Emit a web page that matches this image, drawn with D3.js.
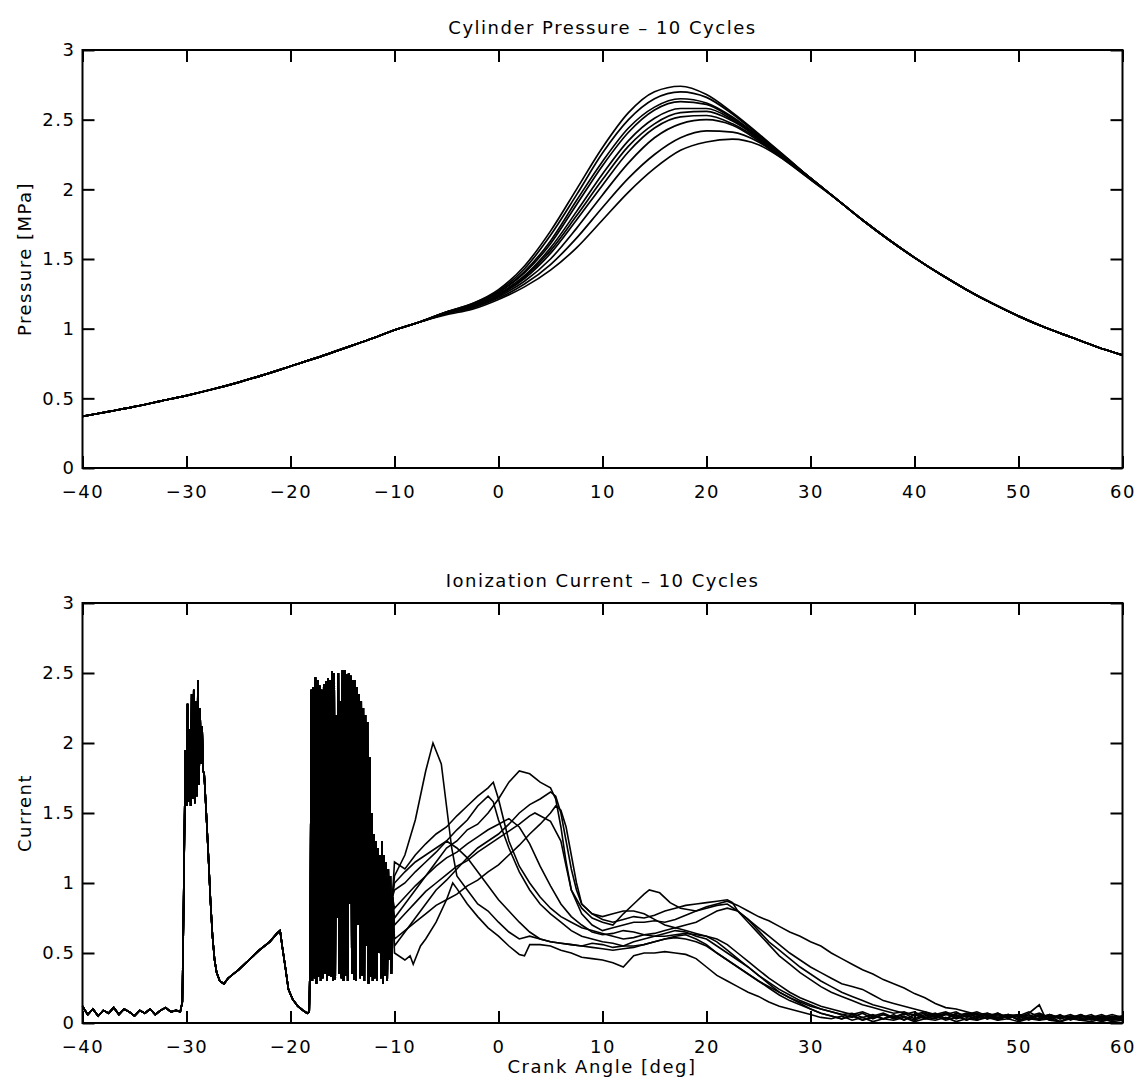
<!DOCTYPE html>
<html>
<head>
<meta charset="utf-8">
<script src="https://cdn.jsdelivr.net/npm/d3@7"></script>
<style>
    body { margin: 0; background: #fff; }
    svg text { font-family: "DejaVu Sans", sans-serif; font-size: 18px; fill: #000; letter-spacing: 1.5px; }
</style>
</head>
<body>
<svg width="1141" height="1084"></svg>
<script>
/* global d3 */

const angleTicks = [-40, -30, -20, -10, 0, 10, 20, 30, 40, 50, 60];
const valueTicks = [0, 0.5, 1, 1.5, 2, 2.5, 3];

// ---- cylinder pressure [MPa] ----
// compression is the same for every cycle
const compressionAngles = [-40, -37.5, -35, -32.5, -30, -27.5, -25, -22.5, -20, -17.5, -15, -12.5, -10, -7.5];
const compressionPressure = [0.37, 0.405, 0.44, 0.48, 0.52, 0.565, 0.615, 0.67, 0.73, 0.79, 0.855, 0.92, 0.99, 1.05];

const combustionAngles = [-5, -2.5, 0, 2.5, 5, 7.5, 10, 12.5, 15, 17.5, 20, 22.5, 25, 27.5, 30];
const pressureCycle1 = [1.12, 1.18, 1.28, 1.45, 1.70, 2.00, 2.30, 2.55, 2.70, 2.74, 2.68, 2.55, 2.40, 2.24, 2.08];
const pressureCycle2 = [1.12, 1.18, 1.27, 1.43, 1.67, 1.96, 2.26, 2.50, 2.65, 2.70, 2.66, 2.54, 2.39, 2.24, 2.08];
const pressureCycle3 = [1.12, 1.17, 1.26, 1.41, 1.63, 1.92, 2.20, 2.44, 2.59, 2.65, 2.62, 2.52, 2.38, 2.23, 2.08];
const pressureCycle4 = [1.12, 1.17, 1.26, 1.40, 1.61, 1.89, 2.17, 2.41, 2.57, 2.63, 2.61, 2.51, 2.38, 2.23, 2.08];
const pressureCycle5 = [1.11, 1.16, 1.25, 1.38, 1.58, 1.84, 2.11, 2.35, 2.51, 2.58, 2.58, 2.50, 2.37, 2.23, 2.08];
const pressureCycle6 = [1.11, 1.16, 1.24, 1.37, 1.56, 1.81, 2.07, 2.31, 2.47, 2.55, 2.56, 2.49, 2.37, 2.23, 2.08];
const pressureCycle7 = [1.11, 1.16, 1.24, 1.36, 1.54, 1.78, 2.03, 2.27, 2.44, 2.52, 2.53, 2.47, 2.36, 2.22, 2.08];
const pressureCycle8 = [1.11, 1.15, 1.23, 1.34, 1.50, 1.72, 1.96, 2.19, 2.37, 2.47, 2.50, 2.46, 2.35, 2.22, 2.08];
const pressureCycle9 = [1.11, 1.15, 1.22, 1.32, 1.46, 1.65, 1.87, 2.08, 2.25, 2.37, 2.42, 2.41, 2.34, 2.21, 2.07];
const pressureCycle10 = [1.10, 1.14, 1.21, 1.30, 1.42, 1.58, 1.78, 1.98, 2.15, 2.28, 2.34, 2.36, 2.32, 2.21, 2.07];

const expansionAngles = [32.5, 35, 37.5, 40, 42.5, 45, 47.5, 50, 52.5, 55, 57.5, 60];
const expansionPressure = [1.93, 1.78, 1.64, 1.51, 1.39, 1.28, 1.18, 1.09, 1.01, 0.94, 0.87, 0.81];

const pressureCycles = [pressureCycle1, pressureCycle2, pressureCycle3, pressureCycle4, pressureCycle5,
    pressureCycle6, pressureCycle7, pressureCycle8, pressureCycle9, pressureCycle10];

// ---- ionization current ----
// before combustion all cycles look alike: baseline, first spark spike, ramp
const ionBaseline = [[-40, 0.12], [-39.5, 0.06], [-39, 0.1], [-38.5, 0.05], [-38, 0.09], [-37.5, 0.07], [-37, 0.11],
    [-36.5, 0.06], [-36, 0.1], [-35.5, 0.08], [-35, 0.05], [-34.5, 0.09], [-34, 0.07], [-33.5, 0.1], [-33, 0.06],
    [-32.5, 0.09], [-32, 0.11], [-31.5, 0.08], [-31, 0.09], [-30.6, 0.08]];
const ionFirstSpike = [[-30.4, 0.15], [-30.3, 0.7], [-30.2, 1.35], [-30.1, 1.95], [-30.0, 1.55], [-29.9, 2.28],
    [-29.8, 1.58], [-29.7, 2.1], [-29.6, 1.55], [-29.5, 2.35], [-29.4, 1.6], [-29.3, 2.38], [-29.2, 1.57],
    [-29.1, 2.3], [-29.0, 1.62], [-28.9, 2.45], [-28.8, 1.7], [-28.7, 2.25], [-28.6, 1.85], [-28.5, 2.12],
    [-28.4, 1.8], [-28.3, 1.78], [-28.1, 1.5], [-27.9, 1.2], [-27.7, 0.88], [-27.5, 0.62], [-27.3, 0.45],
    [-27.1, 0.36], [-26.8, 0.3], [-26.4, 0.28], [-26.0, 0.32], [-25.5, 0.35], [-25, 0.38], [-24, 0.45],
    [-23, 0.52], [-22, 0.58], [-21.3, 0.64], [-21.0, 0.66], [-20.8, 0.55], [-20.5, 0.4], [-20.2, 0.24],
    [-19.8, 0.17], [-19.3, 0.12], [-18.8, 0.09], [-18.4, 0.07], [-18.2, 0.08]];

// second spark burst, one value every 0.1 deg from -18.1
const sparkStart = -18.1;
const sparkStep = 0.1;
const sparkValues = [
    0.5, 2.38, 0.3, 2.4, 0.32, 2.47, 0.28, 2.45, 0.33, 2.41,
    0.3, 2.38, 0.32, 2.42, 0.35, 2.44, 0.3, 2.46, 0.34, 2.45,
    0.33, 2.51, 0.3, 2.5, 0.31, 2.2, 0.75, 2.5, 0.35, 2.3,
    0.32, 2.52, 0.3, 2.52, 0.34, 2.49, 0.3, 2.5, 0.85, 2.48,
    0.35, 2.45, 0.31, 2.45, 0.3, 2.4, 0.7, 2.35, 0.32, 2.3,
    0.34, 2.25, 0.3, 2.2, 0.55, 2.15, 0.28, 1.9, 0.33, 1.5,
    0.3, 1.35, 0.32, 1.3, 0.3, 1.25, 0.5, 1.2, 0.32, 1.3,
    0.28, 1.2, 0.34, 1.15, 0.3, 1.1, 0.45, 1.05, 0.35, 0.9];

// combustion part of each cycle, [angle, current]
const ionCycle1 = [[-10, 1.05], [-9, 1.2], [-8, 1.45], [-7, 1.8], [-6.3, 2.0], [-5.5, 1.85], [-5, 1.55], [-4.5, 1.25],
    [-4, 1.05], [-3, 0.95], [-2, 0.85], [-1, 0.8], [0, 0.72], [1, 0.65], [2, 0.6], [3, 0.62], [4, 0.6], [5, 0.58],
    [6, 0.57], [7, 0.56], [8, 0.55], [9, 0.57], [10, 0.56], [11, 0.54], [12, 0.55], [13, 0.58], [14, 0.6], [15, 0.62],
    [16, 0.64], [17, 0.66], [18, 0.65], [19, 0.62], [20, 0.6], [21, 0.55], [22, 0.5], [23, 0.45], [24, 0.4], [25, 0.34],
    [26, 0.28], [27, 0.22], [28, 0.18], [29, 0.14], [30, 0.1], [31, 0.07], [32, 0.05], [33, 0.03], [34, 0.06],
    [35, 0.02], [36, 0.05], [37, 0.03], [38, 0.06], [39, 0.02], [40, 0.06], [41, 0.04], [42, 0.03], [43, 0.06],
    [44, 0.05], [45, 0.02], [46, 0.05], [47, 0.03], [48, 0.04], [49, 0.06], [50, 0.02], [51, 0.04], [52, 0.05],
    [53, 0.02], [54, 0.01], [55, 0.04], [56, 0.02], [57, 0.04], [58, 0.02], [59, 0.03], [60, 0.03]];
const ionCycle2 = [[-10, 0.75], [-9, 0.85], [-8, 0.95], [-7, 1.05], [-6, 1.15], [-5, 1.25], [-4, 1.3], [-3, 1.38],
    [-2, 1.42], [-1, 1.5], [0, 1.6], [1, 1.72], [2, 1.8], [3, 1.78], [4, 1.72], [5, 1.68], [5.5, 1.6], [6, 1.4],
    [6.5, 1.15], [7, 0.95], [8, 0.82], [9, 0.75], [10, 0.72], [11, 0.7], [12, 0.78], [13, 0.85], [14, 0.92],
    [14.5, 0.95], [15.5, 0.93], [16.5, 0.86], [17.5, 0.82], [19, 0.8], [20, 0.83], [21, 0.85], [22, 0.87], [23, 0.84],
    [24, 0.8], [25, 0.76], [26, 0.73], [27, 0.69], [28, 0.65], [29, 0.62], [30, 0.58], [31, 0.55], [32, 0.5],
    [33, 0.46], [34, 0.42], [35, 0.38], [36, 0.35], [37, 0.31], [38, 0.28], [39, 0.25], [40, 0.21], [41, 0.18],
    [42, 0.14], [43, 0.11], [44, 0.1], [45, 0.08], [46, 0.06], [47, 0.07], [48, 0.05], [49, 0.06], [50, 0.04],
    [51, 0.07], [52, 0.13], [52.5, 0.05], [53, 0.06], [54, 0.04], [55, 0.06], [56, 0.03], [57, 0.05], [58, 0.04],
    [59, 0.06], [60, 0.04]];
const ionCycle3 = [[-10, 1.15], [-9, 1.1], [-8, 1.2], [-7, 1.28], [-6, 1.35], [-5, 1.4], [-4, 1.48], [-3, 1.55],
    [-2, 1.62], [-1, 1.68], [-0.5, 1.72], [0, 1.6], [0.5, 1.45], [1, 1.3], [2, 1.12], [3, 1.0], [4, 0.9], [5, 0.82],
    [6, 0.76], [7, 0.72], [8, 0.68], [9, 0.66], [10, 0.64], [11, 0.62], [12, 0.6], [13, 0.61], [14, 0.63], [15, 0.64],
    [16, 0.66], [17, 0.68], [18, 0.66], [19, 0.64], [20, 0.62], [21, 0.58], [22, 0.52], [23, 0.46], [24, 0.4],
    [25, 0.34], [26, 0.29], [27, 0.24], [28, 0.2], [29, 0.16], [30, 0.13], [31, 0.1], [32, 0.08], [33, 0.06],
    [34, 0.07], [35, 0.04], [36, 0.06], [37, 0.03], [38, 0.05], [39, 0.02], [40, 0.06], [41, 0.03], [42, 0.05],
    [43, 0.02], [44, 0.04], [45, 0.06], [46, 0.02], [47, 0.05], [48, 0.03], [49, 0.06], [50, 0.02], [51, 0.04],
    [52, 0.03], [53, 0.05], [54, 0.01], [55, 0.04], [56, 0.02], [57, 0.03], [58, 0.01], [59, 0.03], [60, 0.02]];
const ionCycle4 = [[-10, 0.55], [-9, 0.65], [-8, 0.75], [-7, 0.85], [-6, 0.95], [-5, 1.02], [-4, 1.1], [-3, 1.18],
    [-2, 1.25], [-1, 1.3], [0, 1.35], [1, 1.42], [2, 1.5], [3, 1.56], [4, 1.6], [5, 1.65], [5.5, 1.62], [6, 1.5],
    [6.5, 1.3], [7, 1.1], [7.5, 0.95], [8, 0.85], [9, 0.78], [10, 0.74], [11, 0.72], [12, 0.74], [13, 0.76],
    [14, 0.75], [15, 0.77], [16, 0.8], [17, 0.82], [18, 0.84], [19, 0.85], [20, 0.86], [21, 0.87], [22, 0.88],
    [22.5, 0.86], [23, 0.8], [24, 0.74], [25, 0.68], [26, 0.62], [27, 0.56], [28, 0.5], [29, 0.45], [30, 0.4],
    [31, 0.36], [32, 0.32], [33, 0.28], [34, 0.26], [35, 0.24], [36, 0.2], [37, 0.16], [38, 0.14], [39, 0.12],
    [40, 0.1], [41, 0.08], [42, 0.06], [43, 0.08], [44, 0.05], [45, 0.07], [46, 0.04], [47, 0.06], [48, 0.03],
    [49, 0.05], [50, 0.06], [51, 0.03], [52, 0.05], [53, 0.03], [54, 0.06], [55, 0.02], [56, 0.05], [57, 0.03],
    [58, 0.04], [59, 0.02], [60, 0.03]];
const ionCycle5 = [[-10, 0.5], [-9, 0.45], [-8.5, 0.48], [-8.2, 0.42], [-7.5, 0.55], [-7, 0.6], [-6, 0.72],
    [-5, 0.88], [-4.4, 1.0], [-4, 0.96], [-3, 0.85], [-2, 0.76], [-1, 0.68], [0, 0.62], [1, 0.55], [2, 0.49],
    [2.5, 0.48], [3, 0.56], [4, 0.56], [5, 0.55], [6, 0.52], [7, 0.5], [8, 0.47], [9, 0.46], [10, 0.45], [11, 0.43],
    [12, 0.4], [13, 0.48], [14, 0.5], [15, 0.5], [16, 0.51], [17, 0.5], [18, 0.49], [19, 0.46], [20, 0.4], [21, 0.34],
    [22, 0.3], [23, 0.26], [24, 0.22], [25, 0.19], [26, 0.15], [27, 0.12], [28, 0.1], [29, 0.08], [30, 0.06],
    [31, 0.04], [32, 0.03], [33, 0.05], [34, 0.02], [35, 0.04], [36, 0.01], [37, 0.03], [38, 0.02], [39, 0.04],
    [40, 0.01], [41, 0.03], [42, 0.02], [43, 0.04], [44, 0.01], [45, 0.03], [46, 0.02], [47, 0.04], [48, 0.02],
    [49, 0.03], [50, 0.01], [51, 0.03], [52, 0.02], [53, 0.03], [54, 0.01], [55, 0.03], [56, 0.02], [57, 0.01],
    [58, 0.03], [59, 0.01], [60, 0.02]];
const ionCycle6 = [[-10, 0.95], [-9, 1.0], [-8, 1.08], [-7, 1.15], [-6, 1.22], [-5, 1.3], [-4, 1.38], [-3, 1.45],
    [-2, 1.55], [-1, 1.62], [-0.5, 1.58], [0, 1.45], [1, 1.25], [2, 1.08], [3, 0.95], [4, 0.85], [5, 0.78], [6, 0.72],
    [7, 0.66], [8, 0.62], [9, 0.6], [10, 0.58], [11, 0.57], [12, 0.55], [13, 0.55], [14, 0.56], [15, 0.58], [16, 0.6],
    [17, 0.62], [18, 0.63], [19, 0.6], [20, 0.56], [21, 0.5], [22, 0.45], [23, 0.4], [24, 0.35], [25, 0.3],
    [26, 0.26], [27, 0.22], [28, 0.18], [29, 0.15], [30, 0.12], [31, 0.1], [32, 0.08], [33, 0.06], [34, 0.04],
    [35, 0.07], [36, 0.03], [37, 0.06], [38, 0.04], [39, 0.07], [40, 0.03], [41, 0.06], [42, 0.04], [43, 0.07],
    [44, 0.03], [45, 0.05], [46, 0.07], [47, 0.03], [48, 0.06], [49, 0.04], [50, 0.05], [51, 0.02], [52, 0.06],
    [53, 0.04], [54, 0.05], [55, 0.03], [56, 0.06], [57, 0.02], [58, 0.05], [59, 0.03], [60, 0.05]];
const ionCycle7 = [[-10, 0.7], [-9, 0.78], [-8, 0.86], [-7, 0.94], [-6, 1.0], [-5, 1.06], [-4, 1.12], [-3, 1.16],
    [-2, 1.22], [-1, 1.27], [0, 1.32], [1, 1.37], [2, 1.42], [3, 1.48], [3.5, 1.5], [4, 1.48], [5, 1.44], [6, 1.3],
    [6.5, 1.12], [7, 0.95], [8, 0.78], [9, 0.7], [10, 0.66], [11, 0.68], [12, 0.7], [13, 0.72], [14, 0.72],
    [15, 0.73], [16, 0.72], [17, 0.74], [18, 0.77], [19, 0.8], [20, 0.82], [21, 0.84], [22, 0.85], [23, 0.8],
    [24, 0.72], [25, 0.64], [26, 0.56], [27, 0.48], [28, 0.42], [29, 0.36], [30, 0.31], [31, 0.26], [32, 0.22],
    [33, 0.19], [34, 0.16], [35, 0.13], [36, 0.11], [37, 0.09], [38, 0.07], [39, 0.08], [40, 0.05], [41, 0.07],
    [42, 0.04], [43, 0.06], [44, 0.08], [45, 0.04], [46, 0.06], [47, 0.03], [48, 0.07], [49, 0.04], [50, 0.06],
    [51, 0.05], [52, 0.07], [53, 0.04], [54, 0.05], [55, 0.03], [56, 0.05], [57, 0.04], [58, 0.06], [59, 0.03],
    [60, 0.04]];
const ionCycle8 = [[-10, 1.0], [-9, 1.08], [-8, 1.15], [-7, 1.2], [-6, 1.25], [-5, 1.3], [-4, 1.25], [-3, 1.18],
    [-2, 1.08], [-1, 0.98], [0, 0.88], [1, 0.8], [2, 0.72], [3, 0.65], [4, 0.6], [5, 0.58], [6, 0.57], [7, 0.56],
    [8, 0.55], [9, 0.54], [10, 0.53], [11, 0.52], [12, 0.53], [13, 0.54], [14, 0.56], [15, 0.58], [16, 0.6],
    [17, 0.61], [18, 0.6], [19, 0.58], [20, 0.55], [21, 0.5], [22, 0.45], [23, 0.4], [24, 0.35], [25, 0.3],
    [26, 0.25], [27, 0.2], [28, 0.16], [29, 0.13], [30, 0.1], [31, 0.07], [32, 0.05], [33, 0.03], [34, 0.05],
    [35, 0.02], [36, 0.04], [37, 0.06], [38, 0.03], [39, 0.05], [40, 0.02], [41, 0.05], [42, 0.07], [43, 0.03],
    [44, 0.06], [45, 0.02], [46, 0.05], [47, 0.06], [48, 0.02], [49, 0.05], [50, 0.03], [51, 0.06], [52, 0.02],
    [53, 0.06], [54, 0.03], [55, 0.05], [56, 0.02], [57, 0.04], [58, 0.03], [59, 0.05], [60, 0.03]];
const ionCycle9 = [[-10, 0.6], [-9, 0.66], [-8, 0.72], [-7, 0.78], [-6, 0.84], [-5, 0.88], [-4, 0.92], [-3, 0.98],
    [-2, 1.02], [-1, 1.08], [0, 1.13], [1, 1.2], [2, 1.27], [3, 1.35], [4, 1.42], [5, 1.5], [5.5, 1.55], [6, 1.52],
    [6.5, 1.4], [7, 1.2], [7.5, 1.0], [8, 0.85], [9, 0.78], [10, 0.76], [11, 0.78], [12, 0.8], [13, 0.8], [14, 0.78],
    [15, 0.74], [16, 0.7], [17, 0.68], [18, 0.7], [19, 0.72], [20, 0.76], [21, 0.8], [22, 0.82], [23, 0.8],
    [24, 0.74], [25, 0.66], [26, 0.58], [27, 0.52], [28, 0.46], [29, 0.4], [30, 0.35], [31, 0.3], [32, 0.26],
    [33, 0.22], [34, 0.19], [35, 0.16], [36, 0.13], [37, 0.11], [38, 0.09], [39, 0.07], [40, 0.06], [41, 0.08],
    [42, 0.05], [43, 0.07], [44, 0.04], [45, 0.06], [46, 0.08], [47, 0.05], [48, 0.07], [49, 0.03], [50, 0.06],
    [51, 0.04], [52, 0.06], [53, 0.02], [54, 0.05], [55, 0.04], [56, 0.06], [57, 0.03], [58, 0.05], [59, 0.02],
    [60, 0.04]];
const ionCycle10 = [[-10, 0.82], [-9, 0.9], [-8, 0.98], [-7, 1.05], [-6, 1.12], [-5, 1.18], [-4, 1.22], [-3, 1.28],
    [-2, 1.33], [-1, 1.38], [0, 1.42], [1, 1.46], [2, 1.4], [3, 1.28], [4, 1.12], [5, 0.98], [6, 0.85], [7, 0.76],
    [8, 0.7], [9, 0.65], [10, 0.63], [11, 0.64], [12, 0.66], [13, 0.65], [14, 0.63], [15, 0.62], [16, 0.62],
    [17, 0.63], [18, 0.64], [19, 0.63], [20, 0.62], [21, 0.6], [22, 0.56], [23, 0.5], [24, 0.44], [25, 0.38],
    [26, 0.32], [27, 0.27], [28, 0.22], [29, 0.18], [30, 0.15], [31, 0.12], [32, 0.1], [33, 0.08], [34, 0.06],
    [35, 0.08], [36, 0.05], [37, 0.07], [38, 0.04], [39, 0.06], [40, 0.08], [41, 0.04], [42, 0.06], [43, 0.03],
    [44, 0.07], [45, 0.05], [46, 0.03], [47, 0.07], [48, 0.04], [49, 0.06], [50, 0.05], [51, 0.08], [52, 0.04],
    [53, 0.06], [54, 0.03], [55, 0.05], [56, 0.04], [57, 0.06], [58, 0.02], [59, 0.04], [60, 0.05]];

const ionCycles = [ionCycle1, ionCycle2, ionCycle3, ionCycle4, ionCycle5,
    ionCycle6, ionCycle7, ionCycle8, ionCycle9, ionCycle10];

// ---- layout ----
const svg = d3.select("svg");
const left = 82.5;
const right = 1122.5;
const panels = [
    { top: 50, bottom: 468, title: "Cylinder Pressure – 10 Cycles", ylabel: "Pressure [MPa]" },
    { top: 603, bottom: 1023, title: "Ionization Current – 10 Cycles", ylabel: "Current" }
];

const x = d3.scaleLinear().domain([-40, 60]).range([left, right]);

function minus(v) {
    return v < 0 ? "\u2212" + Math.abs(v) : String(v);
}

function drawFrame(p, y) {
    const g = svg.append("g");

    g.append("g")
        .attr("transform", `translate(0,${p.bottom})`)
        .call(d3.axisBottom(x).tickValues(angleTicks).tickSize(-12).tickPadding(17).tickFormat(minus))
        .call(a => a.select(".domain").remove());
    g.append("g")
        .attr("transform", `translate(0,${p.top})`)
        .call(d3.axisTop(x).tickValues(angleTicks).tickSize(-12).tickFormat(""))
        .call(a => a.select(".domain").remove());
    g.append("g")
        .attr("transform", `translate(${left},0)`)
        .call(d3.axisLeft(y).tickValues(valueTicks).tickSize(-12).tickPadding(7).tickFormat(d3.format("")))
        .call(a => a.select(".domain").remove());
    g.append("g")
        .attr("transform", `translate(${right},0)`)
        .call(d3.axisRight(y).tickValues(valueTicks).tickSize(-12).tickFormat(""))
        .call(a => a.select(".domain").remove());

    g.selectAll(".tick line").attr("stroke", "#000").attr("stroke-width", 2);
    g.selectAll(".tick text")
        .style("font-family", "'DejaVu Sans', sans-serif")
        .style("font-size", "18px")
        .attr("fill", "#000");

    g.append("rect")
        .attr("x", left)
        .attr("y", p.top)
        .attr("width", right - left)
        .attr("height", p.bottom - p.top)
        .attr("fill", "none")
        .attr("stroke", "#000")
        .attr("stroke-width", 2);

    svg.append("text")
        .attr("x", (left + right) / 2)
        .attr("y", p.top - 16)
        .attr("text-anchor", "middle")
        .text(p.title);

    svg.append("text")
        .attr("transform", `translate(31,${(p.top + p.bottom) / 2}) rotate(-90)`)
        .attr("text-anchor", "middle")
        .text(p.ylabel);
}

// top panel: pressure
const yP = d3.scaleLinear().domain([0, 3]).range([panels[0].bottom, panels[0].top]);
drawFrame(panels[0], yP);

const pressureLine = d3.line()
    .x(d => x(d[0]))
    .y(d => yP(d[1]))
    .curve(d3.curveMonotoneX);

const pressureSeries = pressureCycles.map(cycle => {
    const pts = compressionAngles.map((a, i) => [a, compressionPressure[i]]);
    combustionAngles.forEach((a, i) => pts.push([a, cycle[i]]));
    expansionAngles.forEach((a, i) => pts.push([a, expansionPressure[i]]));
    return pts;
});

svg.append("g")
    .selectAll("path")
    .data(pressureSeries)
    .enter().append("path")
    .attr("d", pressureLine)
    .style("fill", "none")
    .style("stroke", "#000")
    .style("stroke-width", 1.7);

// bottom panel: ionization current
const yI = d3.scaleLinear().domain([0, 3]).range([panels[1].bottom, panels[1].top]);
drawFrame(panels[1], yI);

svg.append("text")
    .attr("x", 602)
    .attr("y", 1073)
    .attr("text-anchor", "middle")
    .text("Crank Angle [deg]");

const sparkPoints = sparkValues.map((v, i) => [sparkStart + i * sparkStep, v]);

const ionLine = d3.line()
    .x(d => x(d[0]))
    .y(d => yI(d[1]));

svg.append("g")
    .selectAll("path")
    .data(ionCycles.map(c => ionBaseline.concat(ionFirstSpike, sparkPoints, c)))
    .enter().append("path")
    .attr("d", ionLine)
    .style("fill", "none")
    .style("stroke", "#000")
    .style("stroke-width", 1.6);
</script>
</body>
</html>
